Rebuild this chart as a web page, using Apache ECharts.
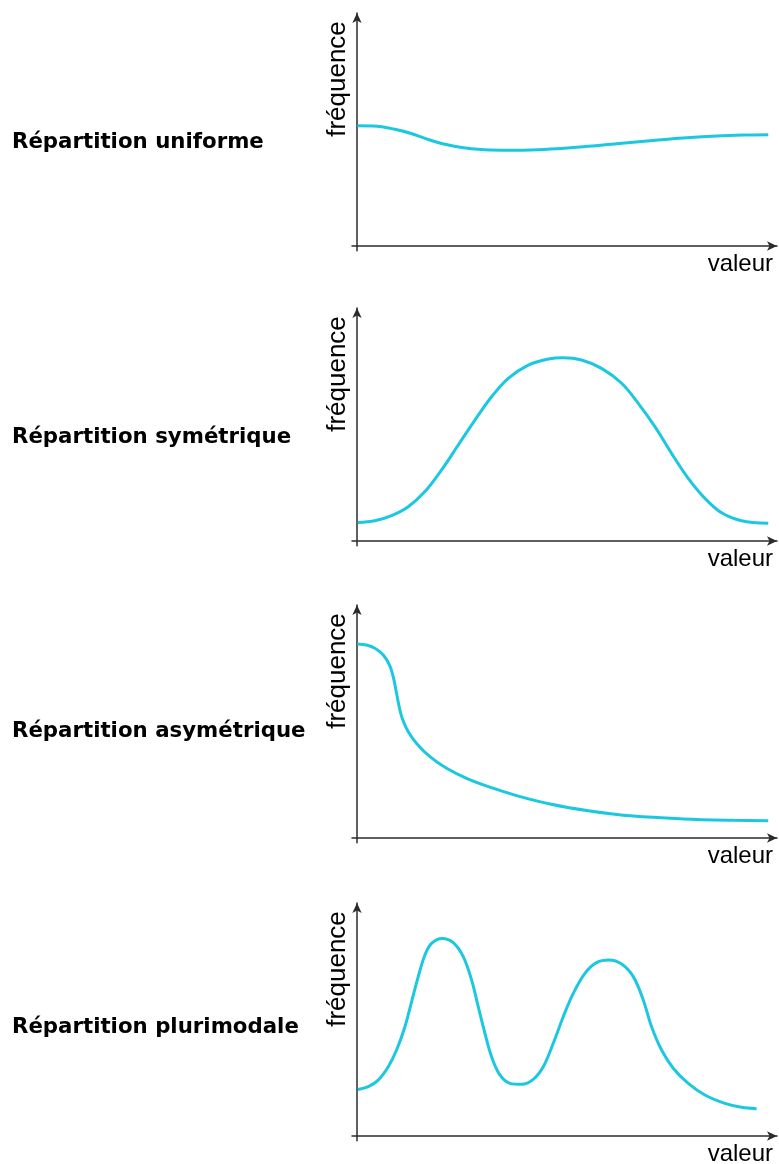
<!DOCTYPE html>
<html>
<head>
<meta charset="utf-8">
<script src="https://cdn.jsdelivr.net/npm/echarts@6/dist/echarts.min.js"></script>
<style>
html,body{margin:0;padding:0;background:#fff;}
#c{width:779px;height:1164px;}
</style>
</head>
<body>
<div id="c"></div>
<script>
// ---- data ----
const titles = ['Répartition uniforme', 'Répartition symétrique', 'Répartition asymétrique', 'Répartition plurimodale'];
const yName = 'fréquence';
const xName = 'valeur';

const xUniforme = [0.1, 4.8, 8.8, 12.8, 16.8, 20.8, 25.6, 32.0, 38.4, 46.3, 54.3, 62.3, 70.3, 78.3, 86.3, 92.7, 98.7];
const yUniforme = [51.6, 51.4, 50.2, 48.4, 45.9, 43.8, 42.2, 41.2, 41.1, 41.6, 42.6, 43.9, 45.2, 46.4, 47.2, 47.6, 47.8];

const xSymetrique = [0.2, 4.3, 8.3, 12.3, 16.3, 20.3, 24.3, 28.3, 32.3, 36.3, 41.1, 45.9, 49.5, 53.9, 58.7, 63.5, 67.5, 71.5, 75.5, 79.5, 83.5, 87.5, 92.3, 98.7];
const ySymetrique = [7.9, 8.7, 10.9, 14.7, 21.2, 30.5, 41.2, 51.9, 61.9, 69.8, 75.5, 78.1, 78.7, 77.7, 74.1, 67.7, 59.1, 49.1, 37.6, 26.9, 18.3, 12.1, 8.7, 7.6];

const xAsymetrique = [0.1, 2.3, 4.3, 6.3, 7.8, 8.7, 9.5, 10.2, 11.0, 12.3, 14.3, 17.5, 21.5, 26.3, 31.9, 38.3, 46.3, 55.9, 66.3, 78.3, 90.3, 98.7];
const yAsymetrique = [83.3, 82.8, 81.4, 78.5, 74.2, 69.2, 62.1, 55.7, 50.6, 45.6, 40.6, 34.9, 29.9, 25.6, 21.8, 18.2, 14.6, 11.6, 9.4, 8.2, 7.6, 7.4];

const xPlurimodale = [0.2, 2.7, 5.1, 7.5, 9.5, 11.5, 13.1, 14.7, 16.3, 17.9, 20.5, 23.1, 25.5, 27.5, 29.1, 30.7, 32.3, 34.3, 36.7, 39.5, 42.3, 44.7, 47.1, 49.5, 51.9, 54.7, 57.5, 60.5, 63.5, 66.3, 68.7, 70.7, 73.1, 75.9, 79.5, 83.5, 88.3, 92.3, 95.9];
const yPlurimodale = [20.0, 21.2, 24.0, 29.7, 36.9, 46.9, 57.6, 68.4, 77.7, 82.7, 84.8, 83.0, 77.0, 67.0, 55.5, 44.1, 34.0, 26.2, 22.6, 22.2, 24.3, 29.7, 39.8, 51.2, 61.2, 69.8, 74.4, 75.5, 73.8, 68.4, 58.4, 46.9, 36.9, 29.1, 22.6, 17.6, 14.0, 12.3, 11.7];

const seriesX = [xUniforme, xSymetrique, xAsymetrique, xPlurimodale];
const seriesY = [yUniforme, ySymetrique, yAsymetrique, yPlurimodale];

// ---- layout ----
const axisPx = [246, 541, 838, 1136];   // pixel row of the value axis (y = 0)
const unitPx = 2.33;                     // px per frequency unit
const yMin = -2, yMax = 100;
const xMin = -1.2, xMax = 100.8;
const lineColor = '#1cc7e0';
const axisColor = '#2b2b2b';

const grids = [], xAxes = [], yAxes = [], series = [], graphics = [];
axisPx.forEach((ax, i) => {
  const top = ax - yMax * unitPx;
  grids.push({ left: 352, width: 425, top: top, height: (yMax - yMin) * unitPx });
  xAxes.push({
    gridIndex: i, type: 'value', min: xMin, max: xMax,
    axisLine: { show: true, onZero: true, symbol: ['none', 'arrow'], symbolSize: [7, 10],
      lineStyle: { color: axisColor, width: 1.5 } },
    axisTick: { show: false }, axisLabel: { show: false }, splitLine: { show: false }
  });
  yAxes.push({
    gridIndex: i, type: 'value', min: yMin, max: yMax,
    axisLine: { show: true, onZero: true, symbol: ['none', 'arrow'], symbolSize: [7, 10],
      lineStyle: { color: axisColor, width: 1.5 } },
    axisTick: { show: false }, axisLabel: { show: false }, splitLine: { show: false }
  });
  series.push({
    type: 'line', xAxisIndex: i, yAxisIndex: i, smooth: 0.35, symbol: 'none',
    lineStyle: { color: lineColor, width: 3 },
    data: seriesX[i].map((x, k) => [x, seriesY[i][k]])
  });
  const titleY = [142, 437, 731, 1027][i];
  graphics.push({
    type: 'text', x: 12, y: titleY,
    style: { text: titles[i], font: 'bold 21.3px "DejaVu Sans"', fill: '#000', textAlign: 'left', textVerticalAlign: 'middle' }
  });
  graphics.push({
    type: 'text', x: 338, y: ax - 167, rotation: Math.PI / 2,
    style: { text: yName, font: '26px "Liberation Sans"', fill: '#000', textAlign: 'center', textVerticalAlign: 'middle' }
  });
  graphics.push({
    type: 'text', x: 773, y: ax + 18,
    style: { text: xName, font: '24px "Liberation Sans"', fill: '#000', textAlign: 'right', textVerticalAlign: 'middle' }
  });
});

const chart = echarts.init(document.getElementById('c'), null, { renderer: 'canvas' });
chart.setOption({
  backgroundColor: '#fff',
  animation: false,
  grid: grids, xAxis: xAxes, yAxis: yAxes, series: series,
  graphic: graphics
});
</script>
</body>
</html>
